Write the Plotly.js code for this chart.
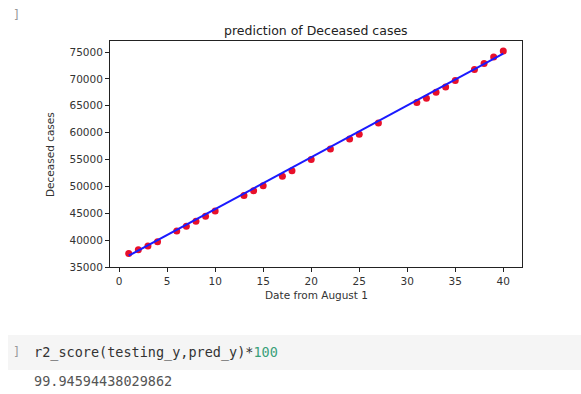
<!DOCTYPE html>
<html>
<head>
<meta charset="utf-8">
<script src="https://cdn.plot.ly/plotly-3.0.1.min.js"></script>
<style>
html,body{margin:0;padding:0;background:#fff;}
#chart{width:581px;height:394px;}
</style>
</head>
<body>
<div id="chart"></div>
<script>
// Days (from August 1) in the test set
const testDays = [1,2,3,4,6,7,8,9,10,13,14,15,17,18,20,22,24,25,27,31,32,33,34,35,37,38,39,40];
// Actual deceased cases (red dots)
const actualDeceased = [37500,38200,38900,39700,41700,42600,43500,44450,45400,48300,49200,50100,51900,52900,55000,56950,58800,59700,61800,65600,66400,67500,68500,69700,71750,72850,74050,75200];
// Predicted deceased cases (blue line)
const predDeceased = [37100,38064,39028,39992,41920,42884,43848,44812,45776,48668,49632,50596,52524,53488,55416,57344,59272,60236,62164,66020,66984,67948,68912,69876,71804,72768,73732,74696];
const xTicks = [0,5,10,15,20,25,30,35,40];
const yTicks = [35000,40000,45000,50000,55000,60000,65000,70000,75000];

const chartTitle = "prediction of Deceased cases";
const xTitle = "Date from August 1";
const yTitle = "Deceased cases";
const codeLine = 'r2_score(testing_y,pred_y)*<span style="color:#3aa07a">100</span>';
const outputLine = "99.94594438029862";

// geometry helpers (pixel -> paper), plot area 110..522 x 41..267
const PL = 110, PR = 522, PT = 41, PB = 267;
const px = v => (v - PL) / (PR - PL);
const py = v => (PB - v) / (PB - PT);

const traces = [
  {x: testDays, y: actualDeceased, type: 'scatter', mode: 'markers',
   marker: {color: '#e8102a', size: 7}, hoverinfo: 'skip'},
  {x: testDays, y: predDeceased, type: 'scatter', mode: 'lines',
   line: {color: '#1a1aff', width: 2}, hoverinfo: 'skip'}
];

const tickFont = {family: 'DejaVu Sans', size: 10.5, color: '#333'};

const layout = {
  width: 581, height: 394,
  margin: {l: PL, r: 581 - PR, t: PT, b: 394 - PB, pad: 0},
  paper_bgcolor: '#fff', plot_bgcolor: '#fff',
  showlegend: false,
  xaxis: {
    range: [-0.95, 41.95], tickvals: xTicks, ticktext: xTicks.map(String),
    showgrid: false, zeroline: false, showline: true, mirror: true,
    linecolor: '#222', linewidth: 1, ticks: 'outside', ticklen: 4, tickcolor: '#222',
    tickfont: tickFont
  },
  yaxis: {
    range: [35000, 77050], tickvals: yTicks, ticktext: yTicks.map(String),
    showgrid: false, zeroline: false, showline: true, mirror: true,
    linecolor: '#222', linewidth: 1, ticks: 'outside', ticklen: 4, tickcolor: '#222',
    tickfont: tickFont
  },
  shapes: [
    {type: 'rect', xref: 'paper', yref: 'paper', layer: 'below',
     x0: px(8), x1: px(581), y0: py(370), y1: py(335),
     fillcolor: '#f5f5f5', line: {width: 0}}
  ],
  annotations: [
    {text: chartTitle, xref: 'paper', yref: 'paper', x: 0.5, y: py(31),
     xanchor: 'center', yanchor: 'middle', showarrow: false,
     font: {family: 'DejaVu Sans', size: 12.5, color: '#222'}},
    {text: xTitle, xref: 'paper', yref: 'paper', x: 0.5, y: py(295),
     xanchor: 'center', yanchor: 'middle', showarrow: false,
     font: {family: 'DejaVu Sans', size: 10.5, color: '#333'}},
    {text: yTitle, xref: 'paper', yref: 'paper', x: px(50), y: py(155),
     xanchor: 'center', yanchor: 'middle', showarrow: false, textangle: -90,
     font: {family: 'DejaVu Sans', size: 10.5, color: '#333'}},
    {text: ']', xref: 'paper', yref: 'paper', x: px(11), y: py(15),
     xanchor: 'left', yanchor: 'middle', showarrow: false,
     font: {family: 'DejaVu Sans Mono', size: 12, color: '#999'}},
    {text: ']', xref: 'paper', yref: 'paper', x: px(11), y: py(352),
     xanchor: 'left', yanchor: 'middle', showarrow: false,
     font: {family: 'DejaVu Sans Mono', size: 12, color: '#999'}},
    {text: codeLine, xref: 'paper', yref: 'paper', x: px(32), y: py(352),
     xanchor: 'left', yanchor: 'middle', showarrow: false,
     font: {family: 'DejaVu Sans Mono', size: 13.5, color: '#333'}},
    {text: outputLine, xref: 'paper', yref: 'paper', x: px(32), y: py(381),
     xanchor: 'left', yanchor: 'middle', showarrow: false,
     font: {family: 'DejaVu Sans Mono', size: 13.5, color: '#555'}}
  ]
};

Plotly.newPlot('chart', traces, layout, {displayModeBar: false, staticPlot: true});
</script>
</body>
</html>
